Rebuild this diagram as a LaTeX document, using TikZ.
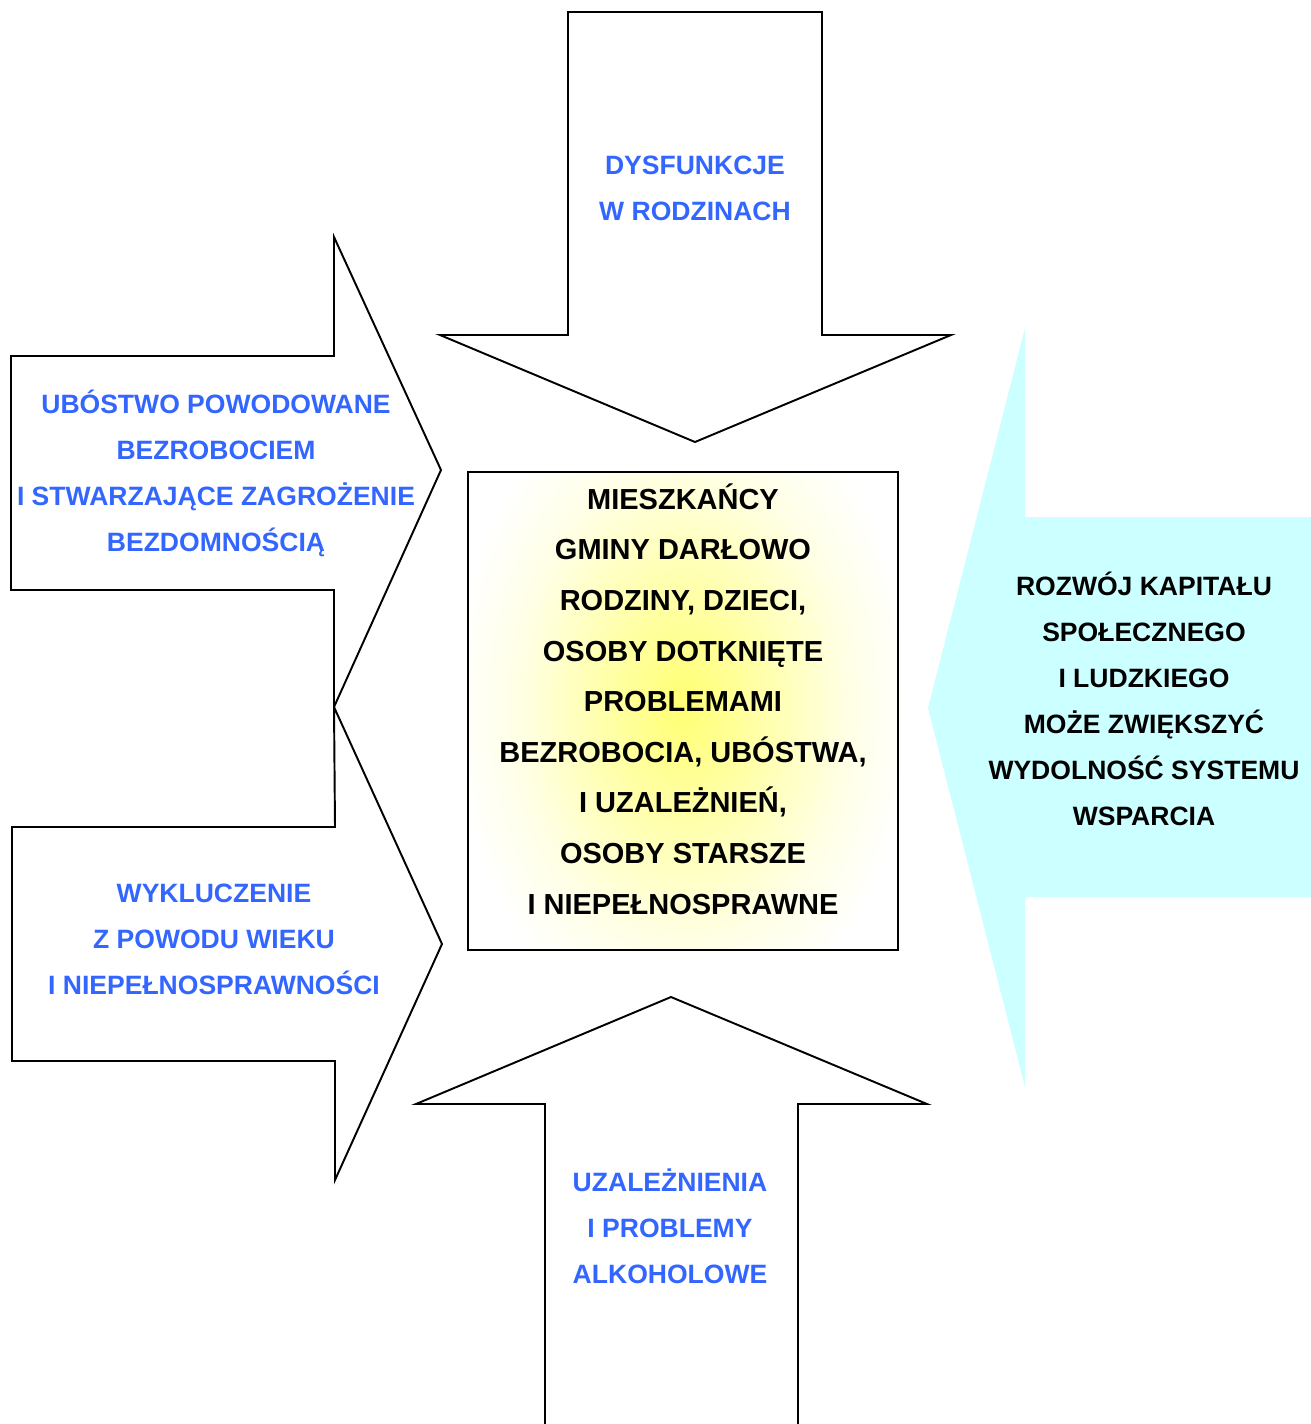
\documentclass[tikz,border=0pt]{standalone}
\usepackage{fontspec}
\setmainfont{Liberation Sans}
\usetikzlibrary{positioning}
\definecolor{niebieski}{HTML}{3366FF}
\definecolor{blekit}{HTML}{CCFFFF}
\pgfdeclareradialshading{poswiata}{\pgfpoint{0bp}{0bp}}{%
  color(0bp)=(yellow!55!white); color(8bp)=(yellow!35!white); color(18bp)=(yellow!10!white);
  color(25bp)=(white); color(50bp)=(white)}
\tikzset{
  strzalka/.style={draw=black, fill=white, line width=1.1pt, line join=miter},
  opis/.style={text=niebieski, align=center, font=\bfseries\fontsize{15.1}{26.2}\selectfont},
  opisczarny/.style={opis, text=black},
  srodek/.style={align=center, font=\bfseries\fontsize{16.5}{28.8}\selectfont}
}

\begin{document}
\begin{tikzpicture}[x=0.02cm, y=-0.02cm]
    \useasboundingbox (0,0) rectangle (1311,1424);
    % strzalka z prawej
    \fill[blekit] (1311,517) -- (1025,517) -- (1025,328) -- (928,708) -- (1025,1087)
        -- (1025,897) -- (1311,897) -- cycle;
    % strzalka z gory
    \draw[strzalka] (568,12) -- (822,12) -- (822,335) -- (951,335) -- (695,442)
        -- (440,335) -- (568,335) -- cycle;
    % strzalki z lewej
    \draw[strzalka] (11,356) -- (334,356) -- (334,237) -- (441,470) -- (334,707)
        -- (334,590) -- (11,590) -- cycle;
    \draw[strzalka] (12,827) -- (335,827) -- (334,707) -- (442,944) -- (335,1180)
        -- (335,1061) -- (12,1061) -- cycle;
    % strzalka z dolu
    \draw[strzalka] (545,1424) -- (545,1104) -- (416,1104) -- (671,997) -- (927,1104)
        -- (798,1104) -- (798,1424);
    % ramka w srodku
    \begin{scope}
      \clip (468,472) rectangle (898,950);
      \shade[shading=poswiata] (683,705) ellipse (230 and 330);
    \end{scope}
    \draw[line width=1.1pt] (468,472) rectangle (898,950);

    \node[opis] (rodziny) at (695,188) {DYSFUNKCJE\\W RODZINACH};
    \node[opis] (ubostwo) at (216,473) {UBÓSTWO POWODOWANE\\BEZROBOCIEM\\I STWARZAJĄCE ZAGROŻENIE\\BEZDOMNOŚCIĄ};
    \node[opis] (wiek) at (214,939) {WYKLUCZENIE\\Z POWODU WIEKU\\I NIEPEŁNOSPRAWNOŚCI};
    \node[opis] (alkohol) at (670,1226) {UZALEŻNIENIA\\I PROBLEMY\\ALKOHOLOWE};
    \node[opisczarny] (kapital) at (1144,699) {ROZWÓJ KAPITAŁU\\SPOŁECZNEGO\\I LUDZKIEGO\\MOŻE ZWIĘKSZYĆ\\WYDOLNOŚĆ SYSTEMU\\WSPARCIA};
    \node[srodek] (mieszkancy) at (683,699) {MIESZKAŃCY\\GMINY DARŁOWO\\RODZINY, DZIECI,\\OSOBY DOTKNIĘTE\\PROBLEMAMI\\BEZROBOCIA, UBÓSTWA,\\I UZALEŻNIEŃ,\\OSOBY STARSZE\\I NIEPEŁNOSPRAWNE};
  \end{tikzpicture}
\end{document}
